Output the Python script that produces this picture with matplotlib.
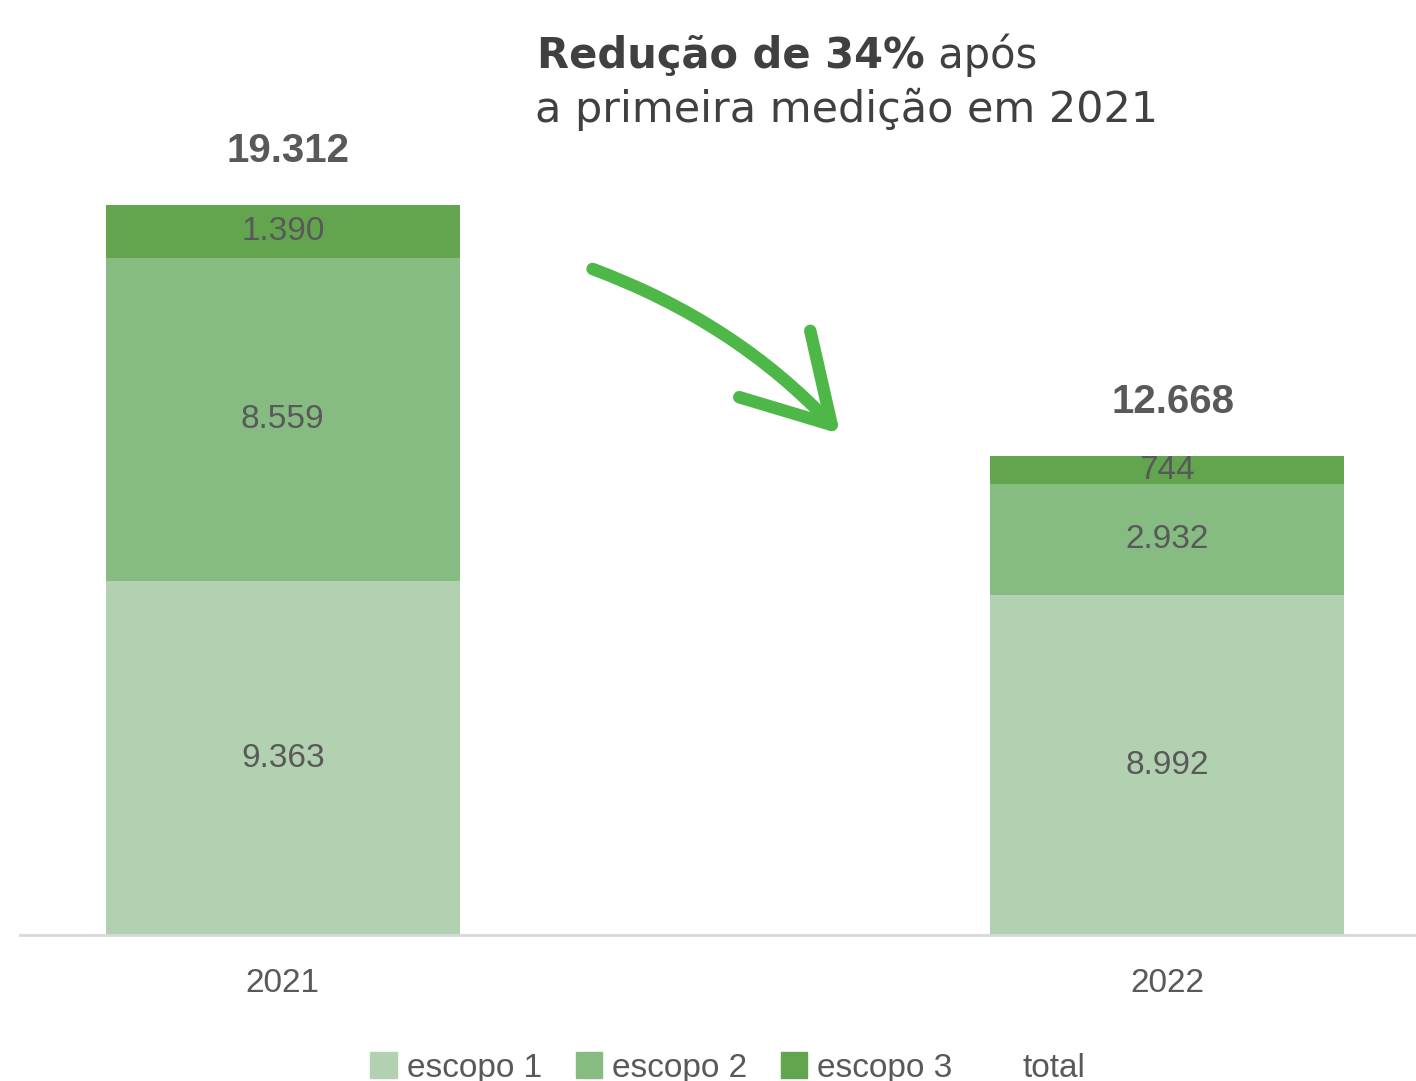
import matplotlib.pyplot as plt
from matplotlib.patches import Patch, FancyArrowPatch, ArrowStyle
from matplotlib.lines import Line2D

years = ['2021', '2022']
escopo1 = [9363, 8992]
escopo2 = [8559, 2932]
escopo3 = [1390, 744]
totals = [19312, 12668]

colors = ['#b2d1b0', '#86bb82', '#63a44f']
names = ['escopo 1', 'escopo 2', 'escopo 3']
text_gray = '#595959'

def fmt(v):
    return f"{v:,}".replace(",", ".")

W, H = 1416, 1081
fig = plt.figure(figsize=(W / 100, H / 100), dpi=100)
# axes in pixel terms: x 20..1416, y 140..935 (from top)
ax = fig.add_axes([20 / W, 1 - 935 / H, (W - 20) / W, (935 - 140) / H])

x = [0, 1]
bottom = [0, 0]
for vals, c, n in zip([escopo1, escopo2, escopo3], colors, names):
    bars = ax.bar(x, vals, width=0.4, bottom=bottom, color=c, label=n)
    ax.bar_label(bars, labels=[fmt(v) for v in vals], label_type='center',
                 fontsize=24, color=text_gray, family='Liberation Sans')
    bottom = [b + v for b, v in zip(bottom, vals)]

for xi, t in zip(x, totals):
    ax.annotate(fmt(t), (xi, t), xytext=(4, 39), textcoords='offset points',
                ha='center', va='center', fontsize=29, fontweight='bold',
                color=text_gray, family='Liberation Sans')

ax.set_xlim(-0.297, 1.281)
ax.set_ylim(0, 795 / 0.0378)
ax.set_xticks(x)
ax.set_xticklabels(years, fontsize=24, color=text_gray, family='Liberation Sans')
ax.tick_params(axis='x', length=0, pad=24)
ax.set_yticks([])
for s in ['top', 'right', 'left']:
    ax.spines[s].set_visible(False)
ax.spines['bottom'].set_color('#d9d9d9')
ax.spines['bottom'].set_linewidth(2)

# title, first line mixes bold and regular
title_color = '#404040'
t1 = fig.text(537 / W, 1 - 68 / H, 'Redução de 34%', fontsize=30, fontweight='bold',
              color=title_color, va='baseline', ha='left', family='DejaVu Sans')
ax.annotate(' após', xy=(1, 0), xycoords=t1, va='bottom', ha='left',
            fontsize=30, color=title_color, family='DejaVu Sans')
fig.text(535 / W, 1 - 122 / H, 'a primeira medição em 2021', fontsize=31,
         color=title_color, va='baseline', ha='left', family='DejaVu Sans')

# hand drawn style arrow
arrow = FancyArrowPatch((590 / W, 1 - 268 / H), (842 / W, 1 - 436 / H),
                        transform=fig.transFigure,
                        connectionstyle='arc3,rad=-0.12',
                        arrowstyle=ArrowStyle('->', head_length=6, head_width=3.5),
                        mutation_scale=10,
                        color='#4db848', lw=9, capstyle='round', joinstyle='round')
fig.patches.append(arrow)

handles = [Patch(color=c) for c in colors] + [Line2D([], [], color='none')]
fig.legend(handles, names + ['total'], loc='center', bbox_to_anchor=(728 / W, 1 - 1068 / H),
           ncol=4, frameon=False, handlelength=0.8, handleheight=0.8,
           handletextpad=0.3, columnspacing=1.0,
           prop={'family': 'Liberation Sans', 'size': 24}, labelcolor=text_gray)

fig.savefig('out.png', dpi=100)
